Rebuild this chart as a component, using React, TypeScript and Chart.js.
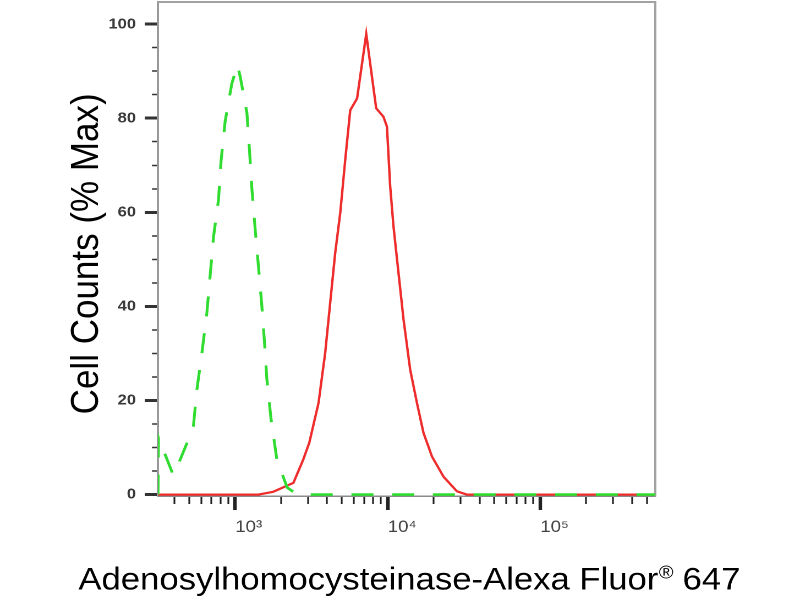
import { useEffect, useRef } from "react";
import { Chart, registerables } from "chart.js";

Chart.register(...registerables);

// The reference is horizontally stretched; draw at 727px and display at 800px.
const CANVAS_W = 727;
const CANVAS_H = 600;
const FONT = "'Liberation Sans', Arial, Helvetica, sans-serif";

// Isotype control (green, dashed): fluorescence intensity and % of max
const controlIntensity = [
  312, 314, 392, 423, 531, 561, 605, 652, 686, 721, 777, 809, 859, 951, 1035,
  1079, 1194, 1241, 1288, 1353, 1422, 1497, 1557, 1614, 1715, 1877, 2193, 2552,
  568000,
];
const controlCounts = [
  0, 12.1, 4.2, 6.4, 14.2, 22.3, 30.1, 38.6, 46.7, 54.8, 62.6, 71.1, 79.3, 87.4,
  91.3, 88.8, 81.1, 73.2, 64.8, 56.3, 48.4, 39.9, 32.3, 24.4, 16.3, 7.4, 1.5, 0,
  0,
];

// Adenosylhomocysteinase stained sample (red, solid)
const sampleIntensity = [
  312, 1416, 1775, 2410, 2790, 3060, 3520, 3890, 4197, 4528, 4885, 5265, 5680,
  6300, 7230, 8405, 9380, 9885, 10380, 10910, 11770, 12700, 14050, 15540, 17170,
  19500, 23230, 28430, 33040, 568000,
];
const sampleCounts = [
  0, 0, 0.6, 2.5, 7.4, 11, 19.5, 30.1, 40.8, 51.4, 59.9, 71.1, 81.7, 84.2, 97.9,
  82.1, 80.3, 78.2, 65.5, 57, 47.1, 37.2, 26.5, 19.5, 13.1, 8.1, 3.8, 0.7, 0, 0,
];

// Axis ticks
const xTickValues = [
  400, 500, 600, 700, 800, 900, 1000, 2000, 3000, 4000, 5000, 6000, 7000, 8000,
  9000, 10000, 20000, 30000, 40000, 50000, 60000, 70000, 80000, 90000, 100000,
  200000, 300000, 400000, 500000,
];
const xMajorValues = [1000, 10000, 100000];
const xMajorLabels = ["10³", "10⁴", "10⁵"];
const yTickValues = [
  0, 5, 10, 15, 20, 25, 30, 35, 40, 45, 50, 55, 60, 65, 70, 75, 80, 85, 90, 95,
  100,
];
const yMajorValues = [0, 20, 40, 60, 80, 100];

// Axis titles
const xTitleMain = "Adenosylhomocysteinase-Alexa Fluor";
const xTitleMark = "®";
const xTitleEnd = " 647";
const yTitle = "Cell Counts (% Max) ";

const FRAME = "#a2a2a2";

// Draws the x-axis title below the x scale (with a raised ® sign).
const xTitlePlugin = {
  id: "xTitleWithMark",
  afterDraw(chart: any) {
    const { ctx, chartArea, scales } = chart;
    const big = `31.5px ${FONT}`;
    const small = `18px ${FONT}`;
    ctx.save();
    ctx.fillStyle = "#000";
    ctx.textAlign = "left";
    ctx.textBaseline = "alphabetic";
    ctx.font = big;
    const w1 = ctx.measureText(xTitleMain).width;
    const w3 = ctx.measureText(xTitleEnd).width;
    ctx.font = small;
    const w2 = ctx.measureText(xTitleMark).width;
    const total = w1 + w2 + w3;
    const cx = (chartArea.left + chartArea.right) / 2 + 2.5;
    const baseY = scales.x.bottom - 10.7;
    let x = cx - total / 2;
    ctx.font = big;
    ctx.fillText(xTitleMain, x, baseY);
    x += w1;
    ctx.font = small;
    ctx.fillText(xTitleMark, x + 0.5, baseY - 11);
    x += w2;
    ctx.font = big;
    ctx.fillText(xTitleEnd, x, baseY);
    ctx.restore();
  },
};

export default function App() {
  const canvasRef = useRef<HTMLCanvasElement | null>(null);

  useEffect(() => {
    const canvas = canvasRef.current;
    if (!canvas) return;

    const isXMajor = (c: any) => xMajorValues.includes(c?.tick?.value);
    const isYMajor = (c: any) => yMajorValues.includes(c?.tick?.value);

    const chart = new Chart(canvas, {
      type: "scatter",
      data: {
        datasets: [
          {
            label: "Isotype control",
            data: controlIntensity.map((x, i) => ({ x, y: controlCounts[i] })),
            showLine: true,
            borderColor: "#30dc30",
            borderWidth: 2.6,
            borderDash: [20, 17],
            pointRadius: 0,
            tension: 0,
            fill: false,
            xAxisID: "x",
            yAxisID: "y",
          },
          {
            label: "Adenosylhomocysteinase",
            data: sampleIntensity.map((x, i) => ({ x, y: sampleCounts[i] })),
            showLine: true,
            borderColor: "#ee2c2c",
            borderWidth: 2.2,
            pointRadius: 0,
            tension: 0,
            fill: false,
            xAxisID: "x",
            yAxisID: "y",
          },
        ],
      },
      options: {
        animation: false,
        responsive: false,
        devicePixelRatio: 2,
        events: [],
        layout: { padding: { left: 0, right: 131.5, top: 2, bottom: 0 } },
        plugins: {
          legend: { display: false },
          tooltip: { enabled: false },
        },
        scales: {
          x: {
            type: "logarithmic",
            position: "bottom",
            bounds: "data",
            min: 312,
            max: 568000,
            afterBuildTicks: (s: any) => {
              s.ticks = xTickValues.map((v) => ({ value: v }));
            },
            afterFit: (s: any) => {
              s.height = 104;
              s.paddingLeft = 0;
              s.paddingRight = 0;
            },
            grid: {
              display: true,
              drawOnChartArea: false,
              drawTicks: true,
              tickLength: 14,
              tickColor: "#222",
              tickWidth: (c: any) => (isXMajor(c) ? 3.2 : 1.6),
              tickBorderDash: (c: any) => (isXMajor(c) ? [] : [7, 40]),
            },
            border: { display: true, color: "#8a8a8a", width: 1.5 },
            ticks: {
              autoSkip: false,
              maxRotation: 0,
              minRotation: 0,
              align: "start",
              padding: 7,
              color: "#444",
              font: { family: FONT, size: 17 },
              callback: (v: any) => {
                const i = xMajorValues.indexOf(Number(v));
                return i >= 0 ? xMajorLabels[i] : "";
              },
            },
            title: { display: false },
          },
          y: {
            type: "linear",
            position: "left",
            bounds: "data",
            min: -0.3,
            max: 104.7,
            afterBuildTicks: (s: any) => {
              s.ticks = yTickValues.map((v) => ({ value: v }));
            },
            afterFit: (s: any) => {
              s.width = 143.6;
              s.paddingTop = 0;
              s.paddingBottom = 0;
            },
            grid: {
              display: true,
              drawOnChartArea: false,
              drawTicks: true,
              tickLength: 12,
              tickColor: "#333",
              tickWidth: (c: any) => (isYMajor(c) ? 3 : 1.6),
              tickBorderDash: (c: any) => (isYMajor(c) ? [] : [0, 6.5, 10, 40]),
            },
            border: { display: true, color: "#999", width: 2 },
            ticks: {
              autoSkip: false,
              padding: 8,
              color: "#3a3a3a",
              font: { family: FONT, size: 15, weight: "bold" },
              callback: (v: any) =>
                yMajorValues.includes(Number(v)) ? String(v) : "",
            },
            title: {
              display: true,
              text: yTitle,
              color: "#000",
              font: { family: FONT, size: 35 },
              padding: { top: 58.4, bottom: 0 },
            },
          },
          x2: {
            type: "linear",
            position: "top",
            display: true,
            min: 0,
            max: 1,
            afterFit: (s: any) => {
              s.height = 0;
              s.paddingLeft = 0;
              s.paddingRight = 0;
            },
            grid: { display: false, drawTicks: false },
            ticks: { display: false },
            border: { display: true, color: FRAME, width: 2 },
          },
          y2: {
            type: "linear",
            position: "right",
            display: true,
            min: 0,
            max: 1,
            afterFit: (s: any) => {
              s.width = 0;
              s.paddingTop = 0;
              s.paddingBottom = 0;
            },
            grid: { display: false, drawTicks: false },
            ticks: { display: false },
            border: { display: true, color: FRAME, width: 2 },
          },
        },
      } as any,
      plugins: [xTitlePlugin],
    });

    return () => {
      chart.destroy();
    };
  }, []);

  return (
    <div
      style={{
        position: "absolute",
        left: 0,
        top: 0,
        width: 800,
        height: 600,
        background: "#fff",
      }}
    >
      <canvas
        ref={canvasRef}
        width={CANVAS_W}
        height={CANVAS_H}
        style={{ width: "800px", height: "600px", display: "block" }}
      />
    </div>
  );
}
